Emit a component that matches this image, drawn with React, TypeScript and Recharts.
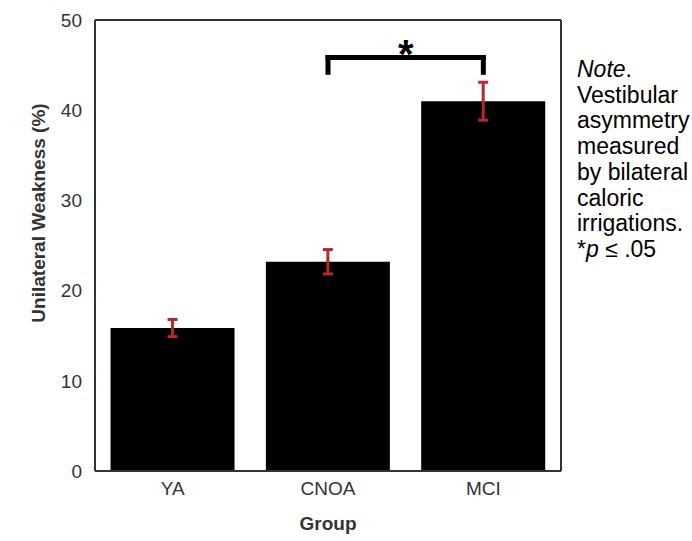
import { BarChart, Bar, XAxis, YAxis, ErrorBar, ReferenceLine } from 'recharts'

const groups = ['YA', 'CNOA', 'MCI']
const weakness = [15.85, 23.2, 41]
const sem = [0.95, 1.35, 2.1]
const yTicks = [0, 10, 20, 30, 40, 50]

// significance bracket between CNOA and MCI
const bracketFrom = 'CNOA'
const bracketTo = 'MCI'
const bracketTop = 45.85
const bracketFoot = 44.2

const noteLines = ['Vestibular', 'asymmetry', 'measured', 'by bilateral', 'caloric', 'irrigations.']

const data = groups.map((g, i) => ({ group: g, value: weakness[i], err: sem[i] }))

const FONT = '"Liberation Sans", Arial, sans-serif'
const INK = '#333'

function YLabel() {
  return (
    <text
      x={38} y={213}
      transform="rotate(-90 38 213)"
      textAnchor="middle"
      dominantBaseline="central"
      fontFamily={FONT} fontSize={19} fontWeight="bold" fill={INK}
    >
      Unilateral Weakness (%)
    </text>
  )
}

function XLabel(props: { viewBox?: { x: number; y: number; width: number } }) {
  const vb = props.viewBox ?? { x: 0, y: 0, width: 0 }
  return (
    <text
      x={vb.x + vb.width / 2} y={vb.y + 59}
      textAnchor="middle"
      fontFamily={FONT} fontSize={19} fontWeight="bold" fill={INK}
    >
      Group
    </text>
  )
}

export default function App() {
  return (
    <div style={{ position: 'absolute', left: 0, top: 0, width: 692, height: 541, background: '#fff' }}>
      <BarChart
        width={692}
        height={541}
        data={data}
        margin={{ top: 19, right: 130, left: 35, bottom: 30 }}
        barCategoryGap="10%"
      >
        <XAxis
          dataKey="group"
          height={40}
          tickLine={false}
          tickSize={0}
          tickMargin={11}
          axisLine={{ stroke: INK, strokeWidth: 2 }}
          tick={{ fontSize: 19, fill: INK, fontFamily: FONT }}
          label={<XLabel />}
        />
        <XAxis
          xAxisId="top"
          dataKey="group"
          orientation="top"
          height={1}
          tick={false}
          tickLine={false}
          axisLine={{ stroke: INK, strokeWidth: 2 }}
        />
        <YAxis
          domain={[0, 50]}
          ticks={yTicks}
          width={60}
          tickLine={false}
          tickSize={0}
          tickMargin={13}
          axisLine={{ stroke: INK, strokeWidth: 2 }}
          tick={{ fontSize: 19, fill: INK, fontFamily: FONT }}
          label={<YLabel />}
        />
        <YAxis
          yAxisId="right"
          orientation="right"
          domain={[0, 50]}
          width={1}
          tick={false}
          tickLine={false}
          axisLine={{ stroke: INK, strokeWidth: 2 }}
        />
        <Bar dataKey="value" fill="#000" isAnimationActive={false}>
          <ErrorBar dataKey="err" width={5} stroke="#b8262e" strokeWidth={3} isAnimationActive={false} />
        </Bar>
        <ReferenceLine
          segment={[{ x: bracketFrom, y: bracketTop }, { x: bracketTo, y: bracketTop }]}
          stroke="#000" strokeWidth={5} strokeLinecap="square"
          label={{ value: '*', position: 'top', fontSize: 40, fontWeight: 'bold', fill: '#000', fontFamily: FONT, dy: 16 }}
        />
        <ReferenceLine
          segment={[{ x: bracketFrom, y: bracketTop }, { x: bracketFrom, y: bracketFoot }]}
          stroke="#000" strokeWidth={5} strokeLinecap="square"
        />
        <ReferenceLine
          segment={[{ x: bracketTo, y: bracketTop }, { x: bracketTo, y: bracketFoot }]}
          stroke="#000" strokeWidth={5} strokeLinecap="square"
        />
      </BarChart>
      <div
        style={{
          position: 'absolute', left: 577, top: 57,
          fontFamily: FONT, fontSize: 23, lineHeight: '25.7px', color: '#000', whiteSpace: 'pre',
        }}
      >
        <div><i>Note</i>.</div>
        {noteLines.map((l) => <div key={l}>{l}</div>)}
        <div>*<i>p</i> ≤ .05</div>
      </div>
    </div>
  )
}
